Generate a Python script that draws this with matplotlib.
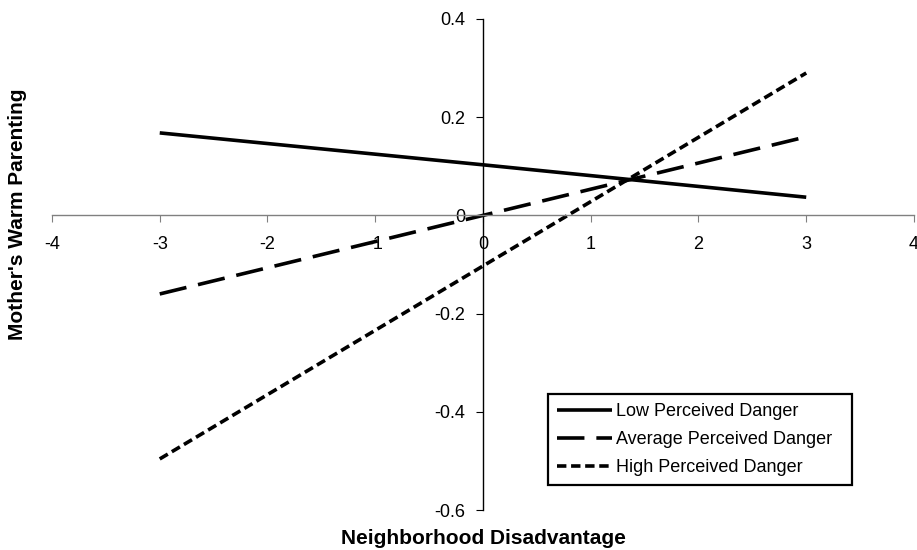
#!/usr/bin/env python3

from matplotlib import pyplot as plt

plt.rcParams['font.family'] = ['Liberation Sans', 'DejaVu Sans']
plt.rcParams['axes.unicode_minus'] = False

# Simple slopes: neighborhood disadvantage vs mother's warm parenting
x_vals = [-3, 0, 3]
low_danger = [0.168, 0.103, 0.037]
avg_danger = [-0.160, 0.0, 0.160]
high_danger = [-0.496, -0.103, 0.290]

series_names = ['Low Perceived Danger', 'Average Perceived Danger', 'High Perceived Danger']
x_ticks = [-4, -3, -2, -1, 0, 1, 2, 3, 4]
y_ticks = [-0.6, -0.4, -0.2, 0, 0.2, 0.4]
y_tick_labels = ['-0.6', '-0.4', '-0.2', '0', '0.2', '0.4']


def plot_slopes():
    fig = plt.figure(figsize=(9.17, 5.5), dpi=100)
    ax = fig.add_axes([0.0567, 0.0727, 0.94, 0.8928])

    lw = 2.6
    ax.plot(x_vals, low_danger, color='black', linewidth=lw, solid_capstyle='butt',
            label=series_names[0])
    ax.plot(x_vals, avg_danger, color='black', linewidth=lw, dashes=(7.6, 3.3),
            dash_capstyle='butt', label=series_names[1])
    ax.plot(x_vals, high_danger, color='black', linewidth=lw, dashes=(2.6, 1.3),
            dash_capstyle='butt', label=series_names[2])

    ax.set_xlim(-4, 4)
    ax.set_ylim(-0.6, 0.4)

    # axes cross at the origin
    ax.spines['left'].set_position(('data', 0))
    ax.spines['bottom'].set_position(('data', 0))
    ax.spines['right'].set_visible(False)
    ax.spines['top'].set_visible(False)
    ax.spines['bottom'].set_color('#808080')
    ax.spines['bottom'].set_linewidth(1.0)
    ax.spines['left'].set_color('black')
    ax.spines['left'].set_linewidth(1.0)

    ax.set_xticks(x_ticks)
    ax.set_xticklabels([str(t) for t in x_ticks])
    ax.set_yticks(y_ticks)
    ax.set_yticklabels(y_tick_labels)
    ax.tick_params(axis='x', direction='out', length=5, color='#808080',
                   labelsize=13, pad=10)
    ax.tick_params(axis='y', direction='out', length=5, color='black',
                   labelsize=13, pad=8)

    leg = ax.legend(loc='upper left', bbox_to_anchor=(0.575, 0.051, 0.353, 0.185),
                    mode='expand', fancybox=False, framealpha=1, edgecolor='black',
                    fontsize=13, handlelength=3.05, handletextpad=0.22,
                    labelspacing=0.6, borderpad=0.5, borderaxespad=0)
    leg.get_frame().set_linewidth(1.6)

    fig.text(0.527, 0.02, 'Neighborhood Disadvantage', ha='center', va='center',
             fontsize=15, fontweight='bold')
    fig.text(0.0196, 0.61, "Mother's Warm Parenting", ha='center', va='center',
             rotation=90, fontsize=15, fontweight='bold')
    return fig


if __name__ == '__main__':
    fig = plot_slopes()
    fig.savefig('out.png', dpi=100)
